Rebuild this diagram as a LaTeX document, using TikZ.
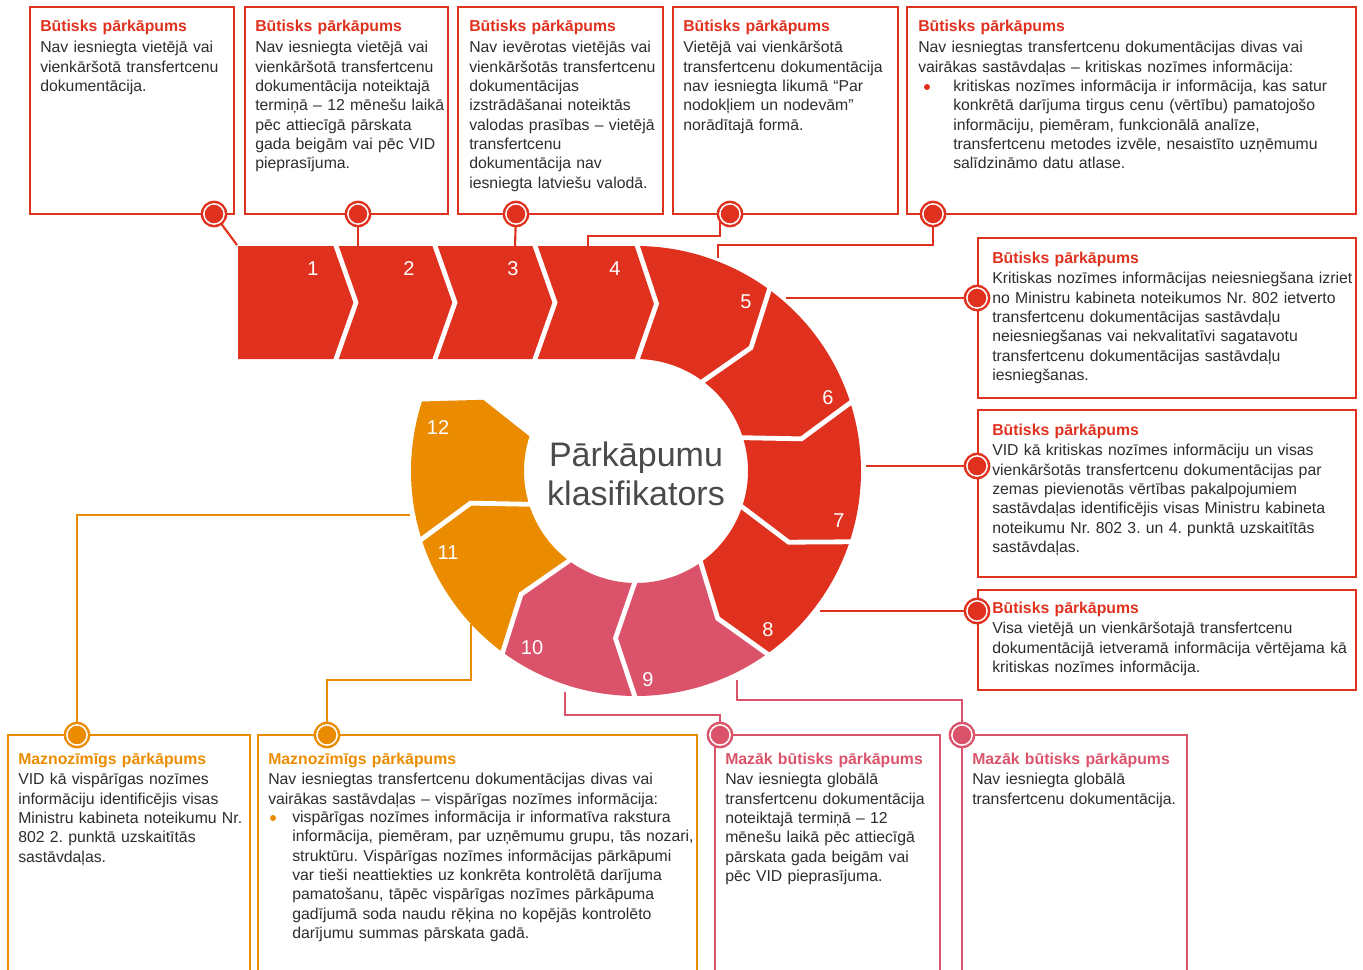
\documentclass[tikz,border=0pt]{standalone}
\usepackage{fontspec}
\setmainfont{Liberation Sans}
\usetikzlibrary{calc,backgrounds}
\definecolor{pwred}{HTML}{E0301E}
\definecolor{pwpink}{HTML}{DB536A}
\definecolor{pworange}{HTML}{EB8C00}
\definecolor{txt}{HTML}{2D2D2D}
\definecolor{ctxt}{HTML}{4A4A4A}
\newcommand{\ringseg}[3]{%
  \fill[#1] ($(C)+(#2:225)$) arc[start angle=#2, end angle=#3, radius=225]
    -- ($(C)+(#3+7:168.5)$) -- ($(C)+(#3:112)$)
    arc[start angle=#3, end angle=#2, radius=112]
    -- ($(C)+(#2+7:168.5)$) -- cycle;}
\newcommand{\ttl}[2]{{\bfseries\color{#1}#2}\\[1.2pt]}
\frenchspacing
\begin{document}
\begin{tikzpicture}[x=0.75pt,y=-0.75pt,
  cline/.style={line width=1.6pt},
  gapline/.style={white, line width=3.6pt},
  num/.style={text=white, font=\fontsize{15}{18}\selectfont, inner sep=0pt},
  dot/.style={circle, fill=#1, minimum size=20pt, inner sep=0pt,
    path picture={\draw[white, line width=1.1pt] (path picture bounding box.center) circle[radius=7.6pt];}},
  tb/.style={anchor=base west, text width=#1, align=left, inner sep=0pt,
    font=\fontsize{11.85}{14.5}\selectfont\frenchspacing, text=txt},
  bul/.style={circle, fill=#1, minimum size=4.5pt, inner sep=0pt},
  ctitle/.style={anchor=base, text width=260pt, align=center, inner sep=0pt,
    font=\fontsize{25.5}{29.3}\selectfont, text=ctxt}
]
\useasboundingbox (0,0) rectangle (1363,970);
\coordinate (C) at (636,471);

% ---- band and ring ----
\fill[pwred] (238,246) -- (636,246) -- ($(C)+(-83:168.5)$) -- (636,359) -- (238,359) -- cycle;
\ringseg{pwred}{-90}{-54}
\ringseg{pwred}{-54}{-18}
\ringseg{pwred}{-18}{18}
\ringseg{pwred}{18}{54}
\ringseg{pwpink}{54}{90}
\ringseg{pwpink}{90}{126}
\ringseg{pworange}{126}{162}
\ringseg{pworange}{162}{198}
\foreach \xb in {335,434,534}
  \draw[gapline] (\xb,243) -- (\xb+21,302.5) -- (\xb,362);
\foreach \a in {-90,-54,...,162}
  \draw[gapline] ($(C)+(\a:229)$) -- ($(C)+(\a+7:168.5)$) -- ($(C)+(\a:108)$);

% ---- numbers ----
\node[num] (n1) at (313,269) {1};
\node[num] (n2) at (409,269) {2};
\node[num] (n3) at (513,269) {3};
\node[num] (n4) at (615,269) {4};
\node[num] (n5) at (746,302) {5};
\node[num] (n6) at (828,398) {6};
\node[num] (n7) at (839,521) {7};
\node[num] (n8) at (768,630) {8};
\node[num] (n9) at (648,680) {9};
\node[num] (n10) at (532,648) {10};
\node[num] (n11) at (448,553) {11};
\node[num] (n12) at (438,428) {12};

\node[ctitle] (ct) at (636,466) {Pārkāpumu\\klasifikators};

% ---- boxes ----
\draw[cline,pwred] (30,7) rectangle (234,214);
\draw[cline,pwred] (245,7) rectangle (448,214);
\draw[cline,pwred] (458,7) rectangle (663,214);
\draw[cline,pwred] (673,7) rectangle (898,214);
\draw[cline,pwred] (907,7) rectangle (1356,214);
\draw[cline,pwred] (978,238) rectangle (1356,398);
\draw[cline,pwred] (978,410) rectangle (1356,577);
\draw[cline,pwred] (978,590) rectangle (1356,690);
\draw[cline,pworange] (8,970) |- (250,735) -- (250,970);
\draw[cline,pworange] (258,970) |- (697,735) -- (697,970);
\draw[cline,pwpink] (715,970) |- (940,735) -- (940,970);
\draw[cline,pwpink] (962,970) |- (1187,735) -- (1187,970);

% ---- dots ----
\node[dot=pwred] (d1) at (214,214) {};
\node[dot=pwred] (d2) at (358,214) {};
\node[dot=pwred] (d3) at (516,214) {};
\node[dot=pwred] (d4) at (730,214) {};
\node[dot=pwred] (d5) at (933,214) {};
\node[dot=pwred] (d6) at (977,298) {};
\node[dot=pwred] (d7) at (977,466) {};
\node[dot=pwred] (d8) at (977,611) {};
\node[dot=pworange] (d9) at (77,735) {};
\node[dot=pworange] (d10) at (327,735) {};
\node[dot=pwpink] (d11) at (720,735) {};
\node[dot=pwpink] (d12) at (962,735) {};

% ---- connector ends on the diagram ----
\coordinate (e1) at (237,245);
\coordinate (e2) at (358,246);
\coordinate (e3) at (515,246);
\coordinate (e4) at (588,246);
\coordinate (e5) at (718,258);
\coordinate (e6) at (786,298);
\coordinate (e7) at (866,466);
\coordinate (e8) at (820,611);
\coordinate (e9) at (410,515);
\coordinate (e10) at (471,624);
\coordinate (e11) at (565,692);
\coordinate (e12) at (737,680);

\begin{scope}[on background layer]
\draw[cline,pwred] (d1.center) -- (e1);
\draw[cline,pwred] (d2.center) -- (e2);
\draw[cline,pwred] (d3.center) -- (e3);
\draw[cline,pwred] ([xshift=-7.5pt]d4.center) -- ++(0,22) -| (e4);
\draw[cline,pwred] (d5.center) -- ++(0,31) -| (e5);
\draw[cline,pwred] (e6) -- (d6.center);
\draw[cline,pwred] (e7) -- (d7.center);
\draw[cline,pwred] (e8) -- (d8.center);
\draw[cline,pworange] (d9.center) |- (e9);
\draw[cline,pworange] (d10.center) -- ++(0,-55) -| (e10);
\draw[cline,pwpink] (e11) -- ++(0,23) -| (d11.center);
\draw[cline,pwpink] (e12) -- ++(0,20) -| (d12.center);
\end{scope}

% ---- texts ----
\node[tb=150pt] (t1) at (40,32) {\ttl{pwred}{Būtisks pārkāpums}Nav iesniegta vietējā vai\\vienkāršotā transfertcenu\\dokumentācija.};
\node[tb=148pt] (t2) at (255,32) {\ttl{pwred}{Būtisks pārkāpums}Nav iesniegta vietējā vai\\vienkāršotā transfertcenu\\dokumentācija noteiktajā\\termiņā – 12 mēnešu laikā\\pēc attiecīgā pārskata\\gada beigām vai pēc VID\\pieprasījuma.};
\node[tb=148pt] (t3) at (469,32) {\ttl{pwred}{Būtisks pārkāpums}Nav ievērotas vietējās vai\\vienkāršotās transfertcenu\\dokumentācijas\\izstrādāšanai noteiktās\\valodas prasības – vietējā\\transfertcenu\\dokumentācija nav\\iesniegta latviešu valodā.};
\node[tb=163pt] (t4) at (683,32) {\ttl{pwred}{Būtisks pārkāpums}Vietējā vai vienkāršotā\\transfertcenu dokumentācija\\nav iesniegta likumā “Par\\nodokļiem un nodevām”\\norādītajā formā.};
\node[tb=330pt] (t5) at (918,32) {\ttl{pwred}{Būtisks pārkāpums}Nav iesniegtas transfertcenu dokumentācijas divas vai\\vairākas sastāvdaļas – kritiskas nozīmes informācija:};
\node[bul=pwred] (b5) at (927,87) {};
\node[tb=302pt] (t5b) at (953,91.6) {kritiskas nozīmes informācija ir informācija, kas satur\\konkrētā darījuma tirgus cenu (vērtību) pamatojošo\\informāciju, piemēram, funkcionālā analīze,\\transfertcenu metodes izvēle, nesaistīto uzņēmumu\\salīdzināmo datu atlase.};
\node[tb=274pt] (t6) at (992,263) {\ttl{pwred}{Būtisks pārkāpums}Kritiskas nozīmes informācijas neiesniegšana izriet\\no Ministru kabineta noteikumos Nr. 802 ietverto\\transfertcenu dokumentācijas sastāvdaļu\\neiesniegšanas vai nekvalitatīvi sagatavotu\\transfertcenu dokumentācijas sastāvdaļu\\iesniegšanas.};
\node[tb=274pt] (t7) at (992,435) {\ttl{pwred}{Būtisks pārkāpums}VID kā kritiskas nozīmes informāciju un visas\\vienkāršotās transfertcenu dokumentācijas par\\zemas pievienotās vērtības pakalpojumiem\\sastāvdaļas identificējis visas Ministru kabineta\\noteikumu Nr. 802 3. un 4. punktā uzskaitītās\\sastāvdaļas.};
\node[tb=274pt] (t8) at (992,613) {\ttl{pwred}{Būtisks pārkāpums}Visa vietējā un vienkāršotajā transfertcenu\\dokumentācijā ietveramā informācija vērtējama kā\\kritiskas nozīmes informācija.};
\node[tb=175pt] (t9) at (18,764) {\ttl{pworange}{Maznozīmīgs pārkāpums}VID kā vispārīgas nozīmes\\informāciju identificējis visas\\Ministru kabineta noteikumu Nr.\\802 2. punktā uzskaitītās\\sastāvdaļas.};
\node[tb=322pt] (t10) at (268,764) {\ttl{pworange}{Maznozīmīgs pārkāpums}Nav iesniegtas transfertcenu dokumentācijas divas vai\\vairākas sastāvdaļas – vispārīgas nozīmes informācija:};
\node[bul=pworange] (b10) at (273,818) {};
\node[tb=304pt] (t10b) at (292,822.6) {vispārīgas nozīmes informācija ir informatīva rakstura\\informācija, piemēram, par uzņēmumu grupu, tās nozari,\\struktūru. Vispārīgas nozīmes informācijas pārkāpumi\\var tieši neattiekties uz konkrēta kontrolētā darījuma\\pamatošanu, tāpēc vispārīgas nozīmes pārkāpuma\\gadījumā soda naudu rēķina no kopējās kontrolēto\\darījumu summas pārskata gadā.};
\node[tb=161pt] (t11) at (725,764) {\ttl{pwpink}{Mazāk būtisks pārkāpums}Nav iesniegta globālā\\transfertcenu dokumentācija\\noteiktajā termiņā – 12\\mēnešu laikā pēc attiecīgā\\pārskata gada beigām vai\\pēc VID pieprasījuma.};
\node[tb=161pt] (t12) at (972,764) {\ttl{pwpink}{Mazāk būtisks pārkāpums}Nav iesniegta globālā\\transfertcenu dokumentācija.};
\end{tikzpicture}
\end{document}
